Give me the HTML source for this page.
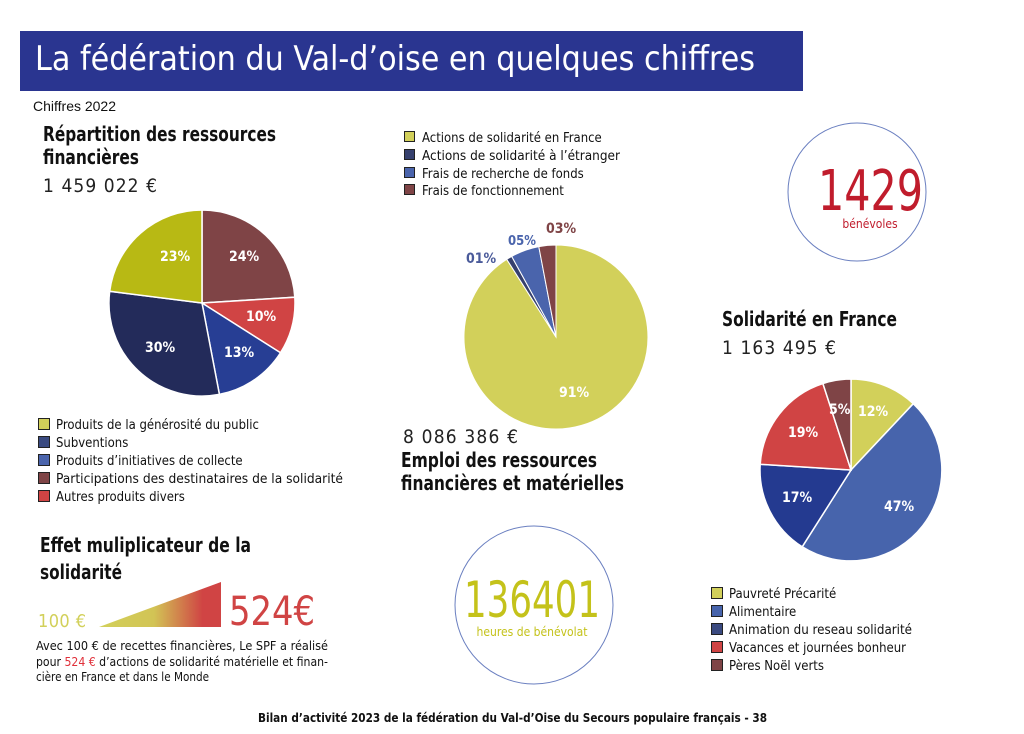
<!DOCTYPE html>
<html><head><meta charset="utf-8"><style>
html,body{margin:0;padding:0;background:#fff;}
svg{display:block;}
text{font-family:"Liberation Sans Narrow","DejaVu Sans Condensed","Liberation Sans",sans-serif;}
.lg{font-size:13px;fill:#111;}
.h{font-size:20px;fill:#111;font-weight:bold;}
.sq{stroke:#222;stroke-width:1;}
.pl{font-size:14px;fill:#fff;font-weight:bold;}
</style></head><body>
<svg width="1024" height="734" viewBox="0 0 1024 734" xmlns="http://www.w3.org/2000/svg">
<defs><linearGradient id="g" x1="0" x2="1" y1="0" y2="0">
<stop offset="0" stop-color="#d2d05a"/><stop offset="0.45" stop-color="#d2c455"/><stop offset="0.85" stop-color="#d04444"/><stop offset="1" stop-color="#d04444"/></linearGradient></defs>
<rect x="20" y="31" width="783" height="60" fill="#2a3590"/>
<text x="35" y="70" font-size="34" fill="#fff" textLength="720" lengthAdjust="spacingAndGlyphs">La fédération du Val-d’oise en quelques chiffres</text>
<text x="33" y="111" font-size="14" fill="#111" style="font-family:'Liberation Sans',sans-serif" textLength="83" lengthAdjust="spacingAndGlyphs">Chiffres 2022</text>

<text x="43" y="141" class="h" textLength="233" lengthAdjust="spacingAndGlyphs">Répartition des ressources</text>
<text x="43" y="164" class="h" textLength="96" lengthAdjust="spacingAndGlyphs">financières</text>
<text x="43" y="192" font-size="19" fill="#222" textLength="114" lengthAdjust="spacing">1 459 022 €</text>

<g stroke="#fff" stroke-width="1.5">
<path d="M202 303 L202 210 A93 93 0 0 1 294.8 297.2Z" fill="#7f4446"/>
<path d="M202 303 L294.8 297.2 A93 93 0 0 1 280.5 352.8Z" fill="#d04444"/>
<path d="M202 303 L280.5 352.8 A93 93 0 0 1 219.4 394.4Z" fill="#273e94"/>
<path d="M202 303 L219.4 394.4 A93 93 0 0 1 109.7 291.3Z" fill="#232b5a"/>
<path d="M202 303 L109.7 291.3 A93 93 0 0 1 202 210Z" fill="#b8b914"/>
</g>
<text x="160" y="261" class="pl">23%</text>
<text x="229" y="261" class="pl">24%</text>
<text x="246" y="321" class="pl">10%</text>
<text x="224" y="357" class="pl">13%</text>
<text x="145" y="352" class="pl">30%</text>

<g class="lg">
<rect x="38.5" y="418.5" width="11" height="11" fill="#d2d05a" class="sq"/><text x="56" y="429">Produits de la générosité du public</text>
<rect x="38.5" y="436.5" width="11" height="11" fill="#3a4a80" class="sq"/><text x="56" y="447">Subventions</text>
<rect x="38.5" y="454.5" width="11" height="11" fill="#4a64ac" class="sq"/><text x="56" y="465">Produits d’initiatives de collecte</text>
<rect x="38.5" y="472.5" width="11" height="11" fill="#7f4446" class="sq"/><text x="56" y="483" textLength="287" lengthAdjust="spacingAndGlyphs">Participations des destinataires de la solidarité</text>
<rect x="38.5" y="490.5" width="11" height="11" fill="#d04444" class="sq"/><text x="56" y="501">Autres produits divers</text>
</g>

<text x="40" y="552" class="h" textLength="211" lengthAdjust="spacingAndGlyphs">Effet muliplicateur de la</text>
<text x="40" y="579" class="h" textLength="82" lengthAdjust="spacingAndGlyphs">solidarité</text>
<text x="38" y="627" font-size="18" fill="#d2d05a" textLength="48" lengthAdjust="spacing">100 €</text>
<polygon points="99,627 221,582 221,627" fill="url(#g)"/>
<text x="229" y="625" font-size="40" fill="#d04444" textLength="86" lengthAdjust="spacingAndGlyphs">524€</text>
<g font-size="12" fill="#111">
<text x="36" y="650" textLength="292" lengthAdjust="spacingAndGlyphs">Avec 100 € de recettes financières, Le SPF a réalisé</text>
<text x="36" y="666" textLength="292" lengthAdjust="spacingAndGlyphs">pour <tspan fill="#e0303a">524 €</tspan> d’actions de solidarité matérielle et finan-</text>
<text x="36" y="681" textLength="173" lengthAdjust="spacingAndGlyphs">cière en France et dans le Monde</text>
</g>

<g class="lg">
<rect x="404.5" y="131.5" width="10" height="10" fill="#d2d05a" class="sq"/><text x="422" y="142">Actions de solidarité en France</text>
<rect x="404.5" y="149.5" width="10" height="10" fill="#36406e" class="sq"/><text x="422" y="160" textLength="198" lengthAdjust="spacingAndGlyphs">Actions de solidarité à l’étranger</text>
<rect x="404.5" y="167.5" width="10" height="10" fill="#4a64ac" class="sq"/><text x="422" y="178">Frais de recherche de fonds</text>
<rect x="404.5" y="184.5" width="10" height="10" fill="#7f4446" class="sq"/><text x="422" y="195">Frais de fonctionnement</text>
</g>
<g stroke="#fff" stroke-width="1">
<path d="M556 337 L556 245 A92 92 0 1 1 506.7 259.3Z" fill="#d2d05a"/>
<path d="M556 337 L506.7 259.3 A92 92 0 0 1 511.7 256.4Z" fill="#36406e"/>
<path d="M556 337 L511.7 256.4 A92 92 0 0 1 538.8 246.6Z" fill="#4a64ac"/>
<path d="M556 337 L538.8 246.6 A92 92 0 0 1 556 245Z" fill="#7f4446"/>
</g>
<text x="466" y="263" font-size="14" font-weight="bold" fill="#4a5a9a">01%</text>
<text x="508" y="245" font-size="13" font-weight="bold" fill="#4a64ac">05%</text>
<text x="546" y="233" font-size="14" font-weight="bold" fill="#7f4446">03%</text>
<text x="559" y="397" class="pl">91%</text>
<text x="403" y="443" font-size="19" fill="#222" textLength="115" lengthAdjust="spacing">8 086 386 €</text>
<text x="401" y="467" class="h" textLength="196" lengthAdjust="spacingAndGlyphs">Emploi des ressources</text>
<text x="401" y="490" class="h" textLength="223" lengthAdjust="spacingAndGlyphs">financières et matérielles</text>

<circle cx="857" cy="192" r="69" fill="none" stroke="#6a7fc0" stroke-width="1"/>
<text x="818" y="210" font-size="56" fill="#c01c2c" textLength="105" lengthAdjust="spacingAndGlyphs">1429</text>
<text x="870" y="228" font-size="12" fill="#c01c2c" text-anchor="middle">bénévoles</text>

<text x="722" y="326" class="h" textLength="175" lengthAdjust="spacingAndGlyphs">Solidarité en France</text>
<text x="722" y="354" font-size="19" fill="#222" textLength="114" lengthAdjust="spacing">1 163 495 €</text>
<g stroke="#fff" stroke-width="1.5">
<path d="M851 470 L851 379 A91 91 0 0 1 913.3 403.7Z" fill="#d2d05a"/>
<path d="M851 470 L913.3 403.7 A91 91 0 0 1 802.2 546.8Z" fill="#4764ac"/>
<path d="M851 470 L802.2 546.8 A91 91 0 0 1 760.2 464.3Z" fill="#243a90"/>
<path d="M851 470 L760.2 464.3 A91 91 0 0 1 822.9 383.5Z" fill="#d04444"/>
<path d="M851 470 L822.9 383.5 A91 91 0 0 1 851 379Z" fill="#7f4446"/>
</g>
<text x="858" y="416" class="pl">12%</text>
<text x="829" y="414" class="pl">5%</text>
<text x="788" y="437" class="pl">19%</text>
<text x="782" y="502" class="pl">17%</text>
<text x="884" y="511" class="pl">47%</text>
<g class="lg">
<rect x="711.5" y="587.5" width="11" height="11" fill="#d2d05a" class="sq"/><text x="729" y="598">Pauvreté Précarité</text>
<rect x="711.5" y="605.5" width="11" height="11" fill="#4764ac" class="sq"/><text x="729" y="616">Alimentaire</text>
<rect x="711.5" y="623.5" width="11" height="11" fill="#3a4a80" class="sq"/><text x="729" y="634" textLength="183" lengthAdjust="spacingAndGlyphs">Animation du reseau solidarité</text>
<rect x="711.5" y="641.5" width="11" height="11" fill="#d04444" class="sq"/><text x="729" y="652">Vacances et journées bonheur</text>
<rect x="711.5" y="659.5" width="11" height="11" fill="#7f4446" class="sq"/><text x="729" y="670">Pères Noël verts</text>
</g>

<circle cx="534" cy="605" r="79" fill="none" stroke="#6a7fc0" stroke-width="1"/>
<text x="464" y="617" font-size="50" fill="#c4c21a" textLength="136" lengthAdjust="spacingAndGlyphs">136401</text>
<text x="532" y="636" font-size="12" fill="#c4c21a" text-anchor="middle">heures de bénévolat</text>

<text x="258" y="722" font-size="12" font-weight="bold" fill="#111" textLength="509" lengthAdjust="spacingAndGlyphs">Bilan d’activité 2023 de la fédération du Val-d’Oise du Secours populaire français - 38</text>
</svg>
</body></html>
